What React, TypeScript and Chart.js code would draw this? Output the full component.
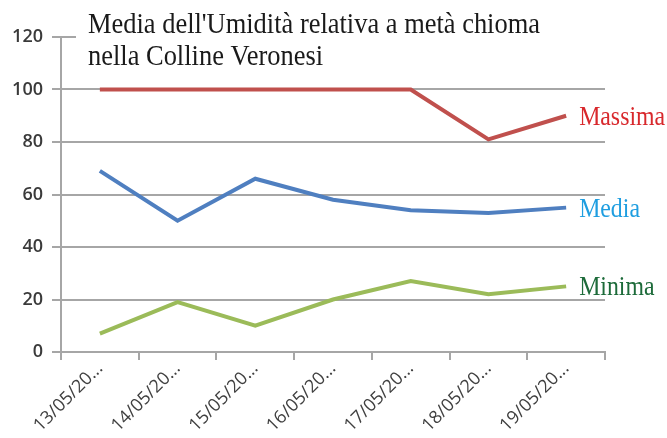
import React, { useEffect, useRef } from "react";
import { Chart, registerables } from "chart.js";

Chart.register(...registerables);

const categories = ["13/05/20...", "14/05/20...", "15/05/20...", "16/05/20...", "17/05/20...", "18/05/20...", "19/05/20..."];
const massima = [100, 100, 100, 100, 100, 81, 90];
const media = [69, 50, 66, 58, 54, 53, 55];
const minima = [7, 19, 10, 20, 27, 22, 25];
const titleLines = ["Media dell'Umidità relativa a metà chioma", "nella Colline Veronesi"];
const seriesNames = ["Massima", "Media", "Minima"];
const labelColors = ["#d8282c", "#1f9ee0", "#1d6b3a"];
const lineColors = ["#c0504d", "#4f7fc0", "#9bbb59"];

const condensedText = (ctx: any, text: string, x: number, y: number, scaleX: number) => {
  ctx.save();
  ctx.translate(x, y);
  ctx.scale(scaleX, 1);
  ctx.fillText(text, 0, 0);
  ctx.restore();
};

const overlay = {
  id: "overlay",
  afterDraw(chart: any) {
    const ctx = chart.ctx;
    ctx.save();
    ctx.fillStyle = "#ffffff";
    ctx.fillRect(76, 4, 560, 68);
    ctx.fillStyle = "#1a1a1a";
    ctx.font = "30px 'Liberation Serif'";
    ctx.textBaseline = "alphabetic";
    ctx.textAlign = "left";
    const w1 = ctx.measureText(titleLines[0]).width;
    const sx = 452 / w1;
    condensedText(ctx, titleLines[0], 88, 33, sx);
    condensedText(ctx, titleLines[1], 88, 65, sx);
    ctx.font = "27px 'Liberation Serif'";
    ctx.textBaseline = "middle";
    chart.data.datasets.forEach((ds: any, i: number) => {
      const meta = chart.getDatasetMeta(i);
      const pt = meta.data[meta.data.length - 1];
      ctx.fillStyle = labelColors[i];
      condensedText(ctx, seriesNames[i], pt.x + 13, pt.y + 2, sx);
    });
    ctx.restore();
  },
};

export default function App() {
  const ref = useRef<HTMLCanvasElement>(null);
  useEffect(() => {
    const chart = new Chart(ref.current!, {
      type: "line",
      data: {
        labels: categories,
        datasets: [
          { label: seriesNames[0], data: massima, borderColor: lineColors[0], borderWidth: 4, pointRadius: 0, tension: 0 },
          { label: seriesNames[1], data: media, borderColor: lineColors[1], borderWidth: 4, pointRadius: 0, tension: 0 },
          { label: seriesNames[2], data: minima, borderColor: lineColors[2], borderWidth: 4, pointRadius: 0, tension: 0 },
        ],
      },
      options: {
        animation: false,
        responsive: false,
        layout: { padding: { left: 8, right: 62, top: 37, bottom: 0 } },
        plugins: { legend: { display: false }, tooltip: { enabled: false } },
        scales: {
          x: {
            offset: true,
            grid: { offset: true, drawOnChartArea: false, drawTicks: true, tickLength: 8, color: "#a6a6a6", lineWidth: 2 },
            border: { color: "#a6a6a6", width: 2 },
            ticks: { minRotation: 45, maxRotation: 45, color: "#404040", font: { family: "'Open Sans'", size: 18 }, padding: -2 },
            afterFit: (s: any) => { s.height = 86; },
          },
          y: {
            min: 0,
            max: 120,
            ticks: { stepSize: 20, color: "#3a3a3a", font: { family: "'Open Sans'", size: 18, weight: 600 }, padding: 9 },
            grid: { color: "#a6a6a6", lineWidth: 2, tickLength: 9 },
            border: { color: "#a6a6a6", width: 2 },
            afterFit: (s: any) => { s.width = 53; },
          },
        },
      },
      plugins: [overlay],
    });
    return () => chart.destroy();
  }, []);
  return (
    <div style={{ position: "fixed", left: 0, top: 0, width: 667, height: 438, background: "#fff" }}>
      <canvas ref={ref} width={667} height={438} style={{ width: 667, height: 438 }} />
    </div>
  );
}
